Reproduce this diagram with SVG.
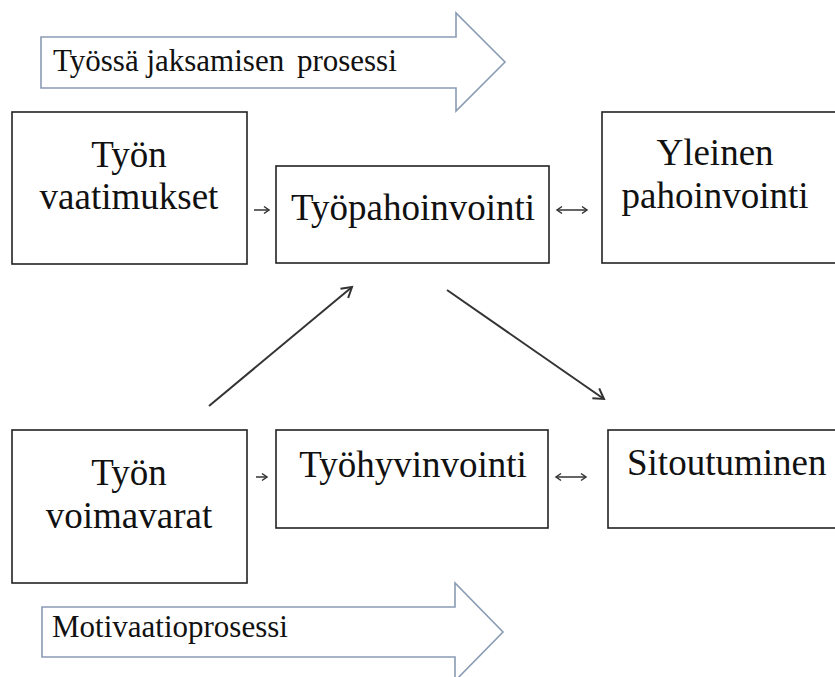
<svg xmlns="http://www.w3.org/2000/svg" width="835" height="677" viewBox="0 0 835 677">
<style>
.box{fill:#fff;stroke:#222;stroke-width:1.6}
.blk{fill:#fff;stroke:#8a9bb4;stroke-width:1.6}
.lbl{font-family:"Liberation Serif","Times New Roman",serif;font-size:37px;fill:#111}
.plbl{font-family:"Liberation Serif","Times New Roman",serif;font-size:31px;fill:#111}
.con{stroke:#333;stroke-width:2;fill:none}
.sm{stroke:#333;stroke-width:1.5;fill:none}
</style>
<defs>
<marker id="ah" markerUnits="userSpaceOnUse" markerWidth="16" markerHeight="16" refX="12" refY="8" orient="auto">
<path d="M2,2 L12,8 L2,14" fill="none" stroke="#333" stroke-width="2"/>
</marker>
<marker id="sh" markerUnits="userSpaceOnUse" markerWidth="10" markerHeight="10" refX="7" refY="5" orient="auto-start-reverse">
<path d="M2,1.5 L7,5 L2,8.5" fill="none" stroke="#333" stroke-width="1.5"/>
</marker>
</defs>
<g id="process-top">
<polygon class="blk" points="41,37 456,37 456,13 505,62 456,111 456,88 41,88"/>
<text class="plbl" x="53" y="71">Työssä jaksamisen<tspan dx="5"> prosessi</tspan></text>
</g>
<g id="process-bottom">
<polygon class="blk" points="42,607 455,607 455,583 503,632 455,681 455,657 42,657"/>
<text class="plbl" x="52" y="637">Motivaatioprosessi</text>
</g>
<g id="tyon-vaatimukset">
<rect class="box" x="12" y="112" width="235" height="152"/>
<text class="lbl" x="129" y="167" text-anchor="middle">Työn</text>
<text class="lbl" x="129" y="209" text-anchor="middle">vaatimukset</text>
</g>
<g id="tyopahoinvointi">
<rect class="box" x="276" y="166" width="273" height="97"/>
<text class="lbl" x="413" y="220" text-anchor="middle">Työpahoinvointi</text>
</g>
<g id="yleinen-pahoinvointi">
<rect class="box" x="602" y="112" width="240" height="151"/>
<text class="lbl" x="715" y="165" text-anchor="middle">Yleinen</text>
<text class="lbl" x="715" y="208" text-anchor="middle">pahoinvointi</text>
</g>
<g id="tyon-voimavarat">
<rect class="box" x="12" y="430" width="235" height="153"/>
<text class="lbl" x="129" y="485" text-anchor="middle">Työn</text>
<text class="lbl" x="129" y="528" text-anchor="middle">voimavarat</text>
</g>
<g id="tyohyvinvointi">
<rect class="box" x="276" y="430" width="272" height="98"/>
<text class="lbl" x="413" y="477" text-anchor="middle">Työhyvinvointi</text>
</g>
<g id="sitoutuminen">
<rect class="box" x="608" y="430" width="240" height="98"/>
<text class="lbl" x="627" y="475">Sitoutuminen</text>
</g>
<g id="connectors">
<line class="sm" x1="254" y1="210" x2="269" y2="210" marker-end="url(#sh)"/>
<line class="sm" x1="557" y1="210" x2="587" y2="210" marker-start="url(#sh)" marker-end="url(#sh)"/>
<line class="sm" x1="256" y1="477" x2="267" y2="477" marker-end="url(#sh)"/>
<line class="sm" x1="556" y1="477" x2="586" y2="477" marker-start="url(#sh)" marker-end="url(#sh)"/>
<line class="con" x1="209" y1="406" x2="352" y2="287" marker-end="url(#ah)"/>
<line class="con" x1="447" y1="290" x2="604" y2="399" marker-end="url(#ah)"/>
</g>
</svg>
